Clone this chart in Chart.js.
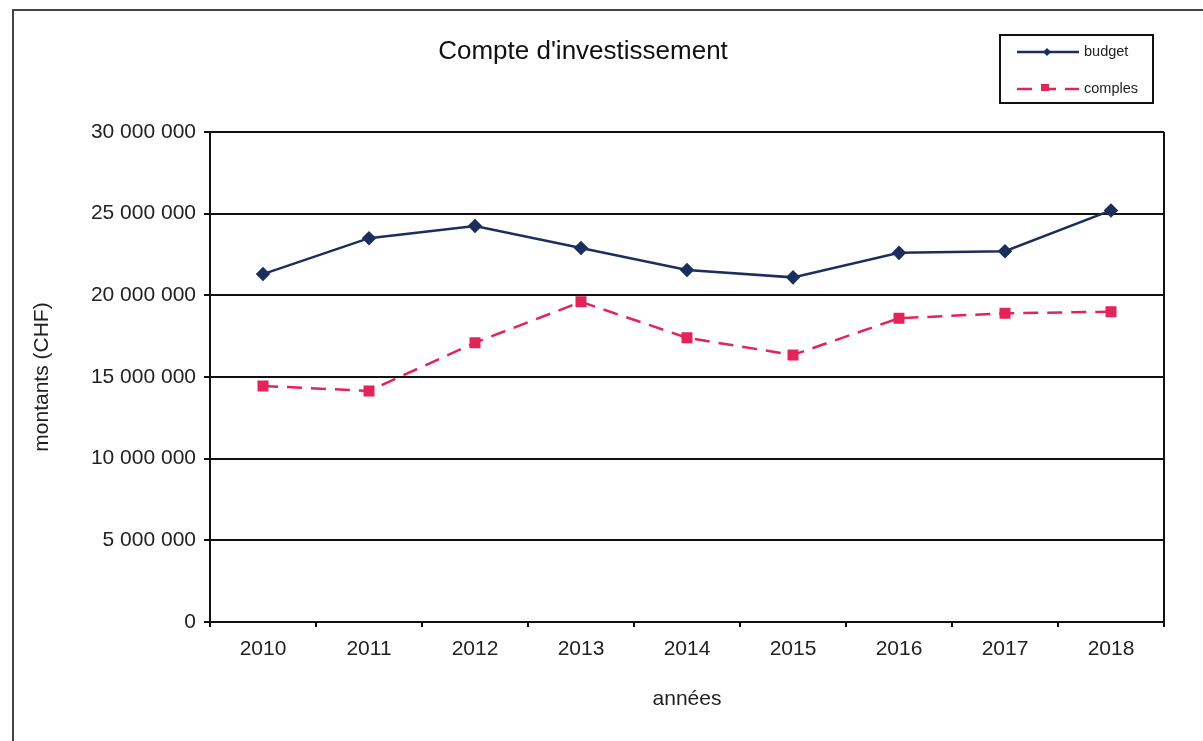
<!DOCTYPE html>
<html>
<head>
<meta charset="utf-8">
<script src="https://cdn.jsdelivr.net/npm/chart.js@4.4.1/dist/chart.umd.min.js"></script>
<style>
  html, body { margin: 0; padding: 0; background: #fff; }
  .chart__container { position: relative; width: 1203px; height: 741px; }
</style>
</head>
<body>
<div class="chart__container">
  <canvas id="chart" width="1203" height="741"></canvas>
</div>
<script>
const years = ['2010', '2011', '2012', '2013', '2014', '2015', '2016', '2017', '2018'];
const budget = [21300000, 23500000, 24250000, 22900000, 21550000, 21100000, 22600000, 22700000, 25200000];
const comptes = [14450000, 14150000, 17100000, 19600000, 17400000, 16350000, 18600000, 18900000, 19000000];
const seriesLabels = ['budget', 'comples'];
const chartTitle = "Compte d'investissement";

const FONT = '"Liberation Sans", Arial, sans-serif';
const NAVY = '#1c2f5c';
const RED = '#e2245a';

const fmt = (v) => String(v).replace(/\B(?=(\d{3})+(?!\d))/g, ' ');

const decor = {
  id: 'decor',
  beforeDraw(chart) {
    const { ctx } = chart;
    ctx.save();
    ctx.fillStyle = '#fff';
    ctx.fillRect(0, 0, chart.width, chart.height);
    ctx.strokeStyle = '#444';
    ctx.lineWidth = 2;
    ctx.beginPath();
    ctx.moveTo(13, chart.height);
    ctx.lineTo(13, 10);
    ctx.lineTo(chart.width, 10);
    ctx.stroke();
    ctx.restore();
  },
  afterDraw(chart) {
    const { ctx, chartArea } = chart;
    ctx.save();
    // right border of plot
    ctx.strokeStyle = '#111';
    ctx.lineWidth = 2;
    ctx.beginPath();
    ctx.moveTo(chartArea.right, chartArea.top);
    ctx.lineTo(chartArea.right, chartArea.bottom + 5);
    ctx.stroke();

    // title
    ctx.fillStyle = '#111';
    ctx.font = '26px ' + FONT;
    ctx.textAlign = 'center';
    ctx.textBaseline = 'middle';
    ctx.fillText(chartTitle, 583, 52);

    // legend box
    ctx.lineWidth = 2;
    ctx.strokeStyle = '#111';
    ctx.strokeRect(1000, 35, 153, 68);
    const items = chart.data.datasets;
    const rows = [52, 89];
    items.forEach((ds, i) => {
      const y = rows[i];
      ctx.strokeStyle = ds.borderColor;
      ctx.lineWidth = ds.borderWidth;
      ctx.setLineDash(ds.borderDash || []);
      ctx.beginPath();
      ctx.moveTo(1017, y);
      ctx.lineTo(1079, y);
      ctx.stroke();
      ctx.setLineDash([]);
      ctx.fillStyle = ds.pointBackgroundColor;
      ctx.beginPath();
      if (ds.pointStyle === 'rectRot') {
        ctx.moveTo(1047, y - 4);
        ctx.lineTo(1051, y);
        ctx.lineTo(1047, y + 4);
        ctx.lineTo(1043, y);
        ctx.closePath();
      } else {
        ctx.rect(1041, y - 5, 8, 7);
      }
      ctx.fill();
      ctx.fillStyle = '#222';
      ctx.font = '14.5px ' + FONT;
      ctx.textAlign = 'left';
      ctx.textBaseline = 'middle';
      ctx.fillText(ds.label, 1084, y);
    });
    ctx.restore();
  },
};

new Chart(document.getElementById('chart'), {
  type: 'line',
  data: {
    labels: years,
    datasets: [
      {
        label: seriesLabels[0],
        data: budget,
        borderColor: NAVY,
        backgroundColor: NAVY,
        pointBackgroundColor: NAVY,
        pointBorderColor: NAVY,
        borderWidth: 2.5,
        pointStyle: 'rectRot',
        pointRadius: 5.5,
        tension: 0,
      },
      {
        label: seriesLabels[1],
        data: comptes,
        borderColor: RED,
        backgroundColor: RED,
        pointBackgroundColor: RED,
        pointBorderColor: RED,
        borderWidth: 2.5,
        borderDash: [15, 9],
        pointStyle: 'rect',
        pointRadius: 6,
        tension: 0,
      },
    ],
  },
  options: {
    responsive: false,
    animation: false,
    events: [],
    layout: { padding: { left: 20, right: 39, top: 132, bottom: 19 } },
    plugins: {
      legend: { display: false },
      title: { display: false },
      tooltip: { enabled: false },
    },
    scales: {
      x: {
        offset: true,
        afterFit: (s) => { s.height = 100; },
        grid: {
          offset: true,
          drawOnChartArea: false,
          drawTicks: true,
          tickLength: 5,
          color: '#111',
          lineWidth: 2,
        },
        border: { display: true, color: '#111', width: 2 },
        ticks: { color: '#222', font: { family: FONT, size: 21 }, padding: 10, maxRotation: 0 },
        title: {
          display: true,
          text: 'années',
          color: '#222',
          font: { family: FONT, size: 21 },
          padding: { top: 30, bottom: 10 },
        },
      },
      y: {
        min: 0,
        max: 30000000,
        afterFit: (s) => { s.width = 190; },
        grid: {
          color: '#111',
          lineWidth: 2,
          drawTicks: true,
          tickLength: 6,
        },
        border: { display: true, color: '#111', width: 2 },
        ticks: {
          stepSize: 5000000,
          color: '#222',
          font: { family: FONT, size: 21 },
          padding: 8,
          callback: (v) => fmt(v),
        },
        title: {
          display: true,
          text: 'montants (CHF)',
          color: '#222',
          font: { family: FONT, size: 21 },
          padding: { top: 10, bottom: 0 },
        },
      },
    },
  },
  plugins: [decor],
});
</script>
</body>
</html>
